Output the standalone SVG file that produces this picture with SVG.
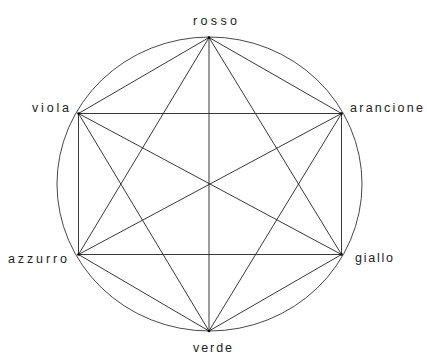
<svg xmlns="http://www.w3.org/2000/svg" width="427" height="355" viewBox="0 0 427 355">
<style>
.l{stroke:#222;stroke-width:0.9;fill:none}
.c{stroke:#333;stroke-width:0.9;fill:none}
.t{font-family:"Liberation Sans",Arial,sans-serif;font-size:12.5px;fill:#222}
.d{fill:#000}
</style>
<rect width="427" height="355" fill="#fff"/>
<ellipse id="cerchio" class="c" cx="209.5" cy="184" rx="152.5" ry="147"/>
<g id="connectors">
<line class="l" x1="209" y1="37.5" x2="78.5" y2="113.5"/>
<line class="l" x1="209" y1="37.5" x2="341.5" y2="113.5"/>
<line class="l" x1="209" y1="37.5" x2="209" y2="331"/>
<line class="l" x1="209" y1="37.5" x2="78.5" y2="254.5"/>
<line class="l" x1="209" y1="37.5" x2="341.5" y2="254.5"/>
<line class="l" x1="78.5" y1="113.5" x2="341.5" y2="113.5"/>
<line class="l" x1="78.5" y1="113.5" x2="78.5" y2="254.5"/>
<line class="l" x1="78.5" y1="113.5" x2="341.5" y2="254.5"/>
<line class="l" x1="78.5" y1="113.5" x2="209" y2="331"/>
<line class="l" x1="341.5" y1="113.5" x2="341.5" y2="254.5"/>
<line class="l" x1="341.5" y1="113.5" x2="78.5" y2="254.5"/>
<line class="l" x1="341.5" y1="113.5" x2="209" y2="331"/>
<line class="l" x1="78.5" y1="254.5" x2="341.5" y2="254.5"/>
<line class="l" x1="78.5" y1="254.5" x2="209" y2="331"/>
<line class="l" x1="341.5" y1="254.5" x2="209" y2="331"/>
</g>
<g id="rosso"><circle class="d" cx="209" cy="37.5" r="1.3"/><text class="t" x="193" y="25" textLength="44" lengthAdjust="spacing">rosso</text></g>
<g id="arancione"><circle class="d" cx="341.5" cy="113.5" r="1.3"/><text class="t" x="350" y="112" textLength="73" lengthAdjust="spacing">arancione</text></g>
<g id="giallo"><circle class="d" cx="341.5" cy="254.5" r="1.3"/><text class="t" x="355" y="262" textLength="38" lengthAdjust="spacing">giallo</text></g>
<g id="verde"><circle class="d" cx="209" cy="331" r="1.3"/><text class="t" x="193" y="352" textLength="39" lengthAdjust="spacing">verde</text></g>
<g id="azzurro"><circle class="d" cx="78.5" cy="254.5" r="1.3"/><text class="t" x="8" y="263" textLength="59" lengthAdjust="spacing">azzurro</text></g>
<g id="viola"><circle class="d" cx="78.5" cy="113.5" r="1.3"/><text class="t" x="32" y="112" textLength="37" lengthAdjust="spacing">viola</text></g>
</svg>
